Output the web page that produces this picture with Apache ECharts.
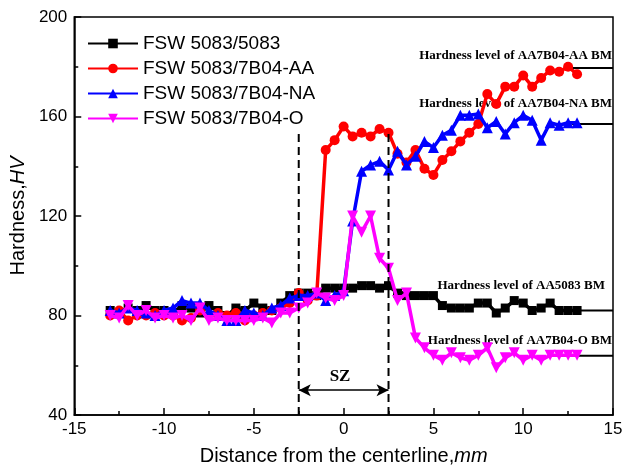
<!DOCTYPE html>
<html>
<head>
<meta charset="utf-8">
<script src="https://cdn.jsdelivr.net/npm/echarts@6/dist/echarts.min.js"></script>
<style>html,body{margin:0;padding:0;background:#fff}#c{width:626px;height:475px}</style>
</head>
<body>
<div id="c"></div>
<script>
var distance = [-13,-12.5,-12,-11.5,-11,-10.5,-10,-9.5,-9,-8.5,-8,-7.5,-7,-6.5,-6,-5.5,-5,-4.5,-4,-3.5,-3,-2.5,-2,-1.5,-1,-0.5,0,0.5,1,1.5,2,2.5,3,3.5,4,4.5,5,5.5,6,6.5,7,7.5,8,8.5,9,9.5,10,10.5,11,11.5,12,12.5,13];
var fsw5083 = [82,81,83,82,84,82,82,81,84,83,81,84,82,80,83,82,85,83,82,85,88,89,89,88,91,91,91,91,92,92,91,92,89,88,88,88,88,84,83,83,83,85,85,81,83,86,85,82,83,85,82,82,82];
var fswAA = [80,82,78,80,80,81,80,80,78,79,82,80,81,80,81,78,80,81,82,83,85,89,86,88,146.5,150.5,156,152,153.5,152,155,153.5,145,141.5,146.5,139,136.5,142.5,146,150,153.5,157,169,165,172,172,176.5,172,175.5,178.5,178,180,177];
var fswNA = [82,81,83,82,81,80,82,83,86,85,85,82,80,78,78,82,81,80,83,84,87,88,88,89,86,88,90,118,138,140.5,142,138.5,146,140.5,144,150,147.5,152.5,154.5,160.5,160.5,161,155.5,158,153,157.5,160.5,158.5,150.5,157.5,156.5,157.5,157.5];
var fswO = [80,79,84,80,82,79,80,79,80,78,83,78,79,78,78,78,78,79,77,81,81,83,85,89,87,86,88,120,113.5,120,103,99,86,89,71,67,64,62,65,63,62,64,67,59,63,65,62,64,62,64,64,64,64];
var seriesNames = ['FSW 5083/5083','FSW 5083/7B04-AA','FSW 5083/7B04-NA','FSW 5083/7B04-O'];
var bmLabels = ['Hardness level of AA7B04-AA BM','Hardness level of AA7B04-NA BM','Hardness level of AA5083 BM','Hardness level of AA7B04-O BM'];
var bmLevels = [179.5, 157, 82, 63.8];
var bmStart = [12.7, 12.7, 13.1, 12.7];
var bmEnd = 15;
var szBounds = [-2.5, 2.5];
var szTop = 155;
var szArrowLevel = 50;

function pairs(ys){ return distance.map(function(x,i){ return [x, ys[i]]; }); }

var chart = echarts.init(document.getElementById('c'));
var colors = ['#000000','#ff0000','#0000ff','#ff00ff'];
var symbols = ['rect','circle','triangle','triangle'];
var rot = [0,0,0,180];
var sizes = [9,10,11,11];
var allData = [fsw5083, fswAA, fswNA, fswO];

var series = allData.map(function(d,i){
  return {
    name: seriesNames[i], type:'line', data: pairs(d),
    symbol: symbols[i], symbolSize: sizes[i], symbolRotate: rot[i],
    showAllSymbol: true,
    lineStyle:{color:colors[i], width:3.5},
    itemStyle:{color:colors[i]},
    z: 3+i
  };
});
bmLevels.forEach(function(v,i){
  series.push({type:'line', data:[[bmStart[i],v],[bmEnd,v]], symbol:'none',
    lineStyle:{color:'#000', width:2}, silent:true, z:2});
});
szBounds.forEach(function(x){
  series.push({type:'line', data:[[x,40],[x,szTop]], symbol:'none',
    lineStyle:{color:'#000', width:2, type:[8,5]}, silent:true, z:10});
});
series.push({type:'line', data:[], silent:true,
  markLine:{silent:true, symbol:['arrow','arrow'], symbolSize:[9,12], label:{show:false},
    lineStyle:{color:'#000', width:1.5, type:'solid'},
    data:[[{coord:[szBounds[0],szArrowLevel]},{coord:[szBounds[1],szArrowLevel]}]]}
});

var labelFont = 'Liberation Sans, Arial, sans-serif';
var serif = 'Liberation Serif, Times New Roman, serif';

chart.setOption({
  animation:false,
  backgroundColor:'#fff',
  grid:{left:74, right:13, top:17, bottom:60, show:true, borderColor:'#000', borderWidth:1.5},
  legend:{
    data: seriesNames, orient:'vertical', left:82, top:29, itemWidth:50, itemHeight:12, itemGap:6,
    textStyle:{fontFamily:labelFont, fontSize:19, color:'#000'}
  },
  xAxis:{
    type:'value', min:-15, max:15, interval:5,
    name:'{a|Distance from the centerline,}{b|mm}', nameLocation:'middle', nameGap:31,
    nameTextStyle:{rich:{a:{fontFamily:labelFont,fontSize:20,color:'#000'},b:{fontFamily:labelFont,fontSize:20,fontStyle:'italic',color:'#000'}}},
    axisLine:{onZero:false, lineStyle:{color:'#000', width:1.5}},
    axisTick:{inside:true, length:7, lineStyle:{color:'#000', width:1.5}},
    minorTick:{show:true, splitNumber:2, length:4, lineStyle:{color:'#000', width:1.5}},
    splitLine:{show:false},
    axisLabel:{fontFamily:labelFont, fontSize:17, color:'#000', margin:6}
  },
  yAxis:{
    type:'value', min:40, max:200, interval:40,
    name:'{a|Hardness,}{b|HV}', nameLocation:'middle', nameGap:45,
    nameTextStyle:{rich:{a:{fontFamily:labelFont,fontSize:20,color:'#000'},b:{fontFamily:labelFont,fontSize:20,fontStyle:'italic',color:'#000'}}},
    axisLine:{onZero:false, lineStyle:{color:'#000', width:1.5}},
    axisTick:{inside:true, length:7, lineStyle:{color:'#000', width:1.5}},
    minorTick:{show:true, splitNumber:2, length:4, lineStyle:{color:'#000', width:1.5}},
    splitLine:{show:false},
    axisLabel:{fontFamily:labelFont, fontSize:17, color:'#000', margin:7}
  },
  series: series
});

var offsets = [[-1,-12],[-1,-20],[-8,-24],[-1,-15]];
var gfx = bmLabels.map(function(t,i){
  var p = chart.convertToPixel({gridIndex:0}, [bmEnd, bmLevels[i]]);
  return {type:'text', right: 626 - (p[0] + offsets[i][0]), top: p[1] + offsets[i][1] - 7,
    style:{text:t, font:'bold 13px ' + serif, fill:'#000'}};
});
var szP = chart.convertToPixel({gridIndex:0}, [0, szArrowLevel]);
gfx.push({type:'text', left: szP[0]-14, top: szP[1]-22, style:{text:'SZ', font:'bold 17px ' + serif, fill:'#000'}});
chart.setOption({graphic: gfx});
</script>
</body>
</html>
